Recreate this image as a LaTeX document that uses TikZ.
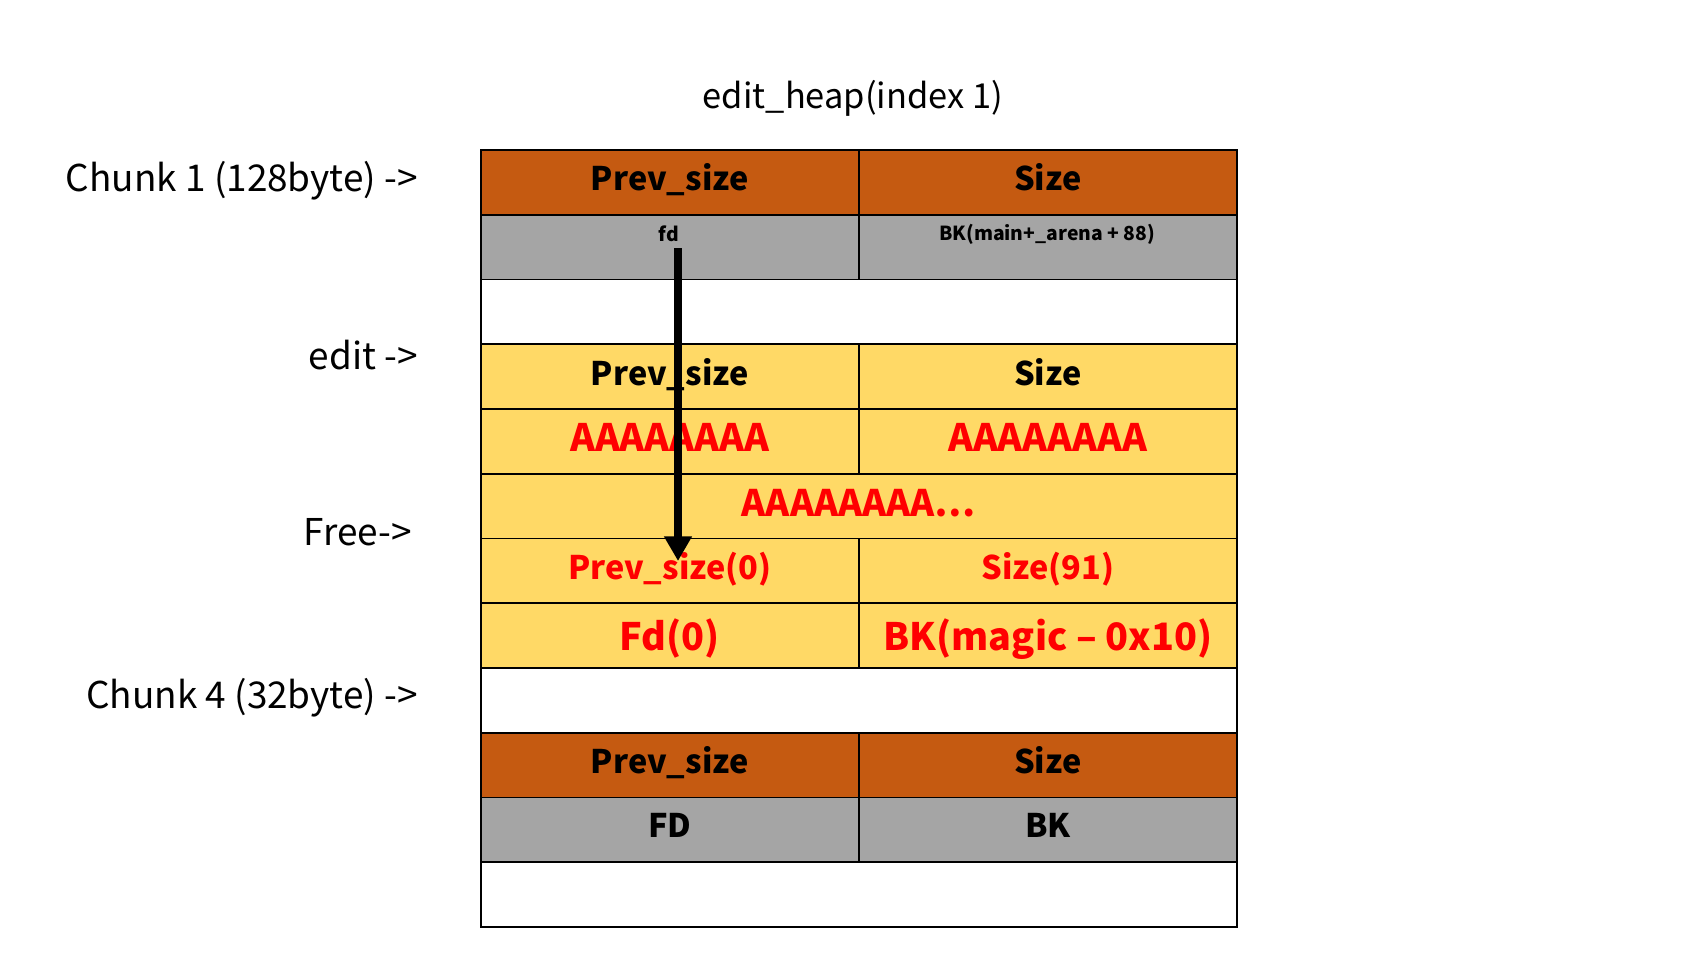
\documentclass[tikz,border=0pt]{standalone}
\usepackage{fontspec}
\setmainfont{Noto Sans CJK KR}
\usetikzlibrary{arrows.meta,positioning}

\definecolor{headfill}{HTML}{C55A11}
\definecolor{bodyfill}{HTML}{A5A5A5}
\definecolor{editfill}{HTML}{FFD966}
\definecolor{fakered}{HTML}{FF0000}

\tikzset{
  half/.style={draw=black,line width=1pt,minimum width=7.56cm,minimum height=1.2954cm,
    inner sep=0pt,anchor=north west,text height=13pt,text depth=3.4pt,
    font=\fontsize{18.5}{22}\selectfont\bfseries},
  whole/.style={half,minimum width=15.12cm},
  forged/.style={text=fakered},
  bigred/.style={forged,font=\fontsize{21.5}{26}\selectfont\bfseries},
  sidelabel/.style={anchor=east,inner sep=0pt,font=\fontsize{21}{25}\selectfont}
}

\begin{document}
\begin{tikzpicture}[x=0.02cm,y=-0.02cm,>=Stealth]
  \useasboundingbox (0,0) rectangle (1681,958);
  \node[font=\fontsize{19.6}{24}\selectfont] (title) at (853,98) {edit\_heap(index 1)};

  % chunk 1
  \node[half,fill=headfill] (c1ps) at (480,149) {Prev\_size};
  \node[half,fill=headfill] (c1sz) at (858,149) {Size};
  \node[half,fill=bodyfill] (c1fd) at (480,213.8) {};
  \node[half,fill=bodyfill] (c1bk) at (858,213.8) {};
  \node[font=\fontsize{11}{13}\selectfont\bfseries,anchor=center] (fdlbl) at (669,234) {fd};
  \node[font=\fontsize{11}{13}\selectfont\bfseries,anchor=center] (bklbl) at (1047,234) {BK(main+\_arena + 88)};
  \node[whole,fill=white] (c1gap) at (480,278.5) {};

  % edited chunk
  \node[half,fill=editfill] (edps) at (480,343.3) {Prev\_size};
  \node[half,fill=editfill] (edsz) at (858,343.3) {Size};
  \node[half,fill=editfill,bigred,text height=14pt,text depth=3pt] (eda1) at (480,408.1) {AAAAAAAA};
  \node[half,fill=editfill,bigred,text height=14pt,text depth=3pt] (eda2) at (858,408.1) {AAAAAAAA};
  \node[whole,fill=editfill,forged,font=\fontsize{20.8}{25}\selectfont\bfseries,text height=14pt,text depth=2pt] (edall) at (480,472.9) {AAAAAAAA\dots};
  \node[half,fill=editfill,forged,text height=13.5pt,text depth=3.2pt] (frps) at (480,537.6) {Prev\_size(0)};
  \node[half,fill=editfill,forged,text height=13.5pt,text depth=3.2pt] (frsz) at (858,537.6) {Size(91)};
  \node[half,fill=editfill,bigred,text height=19pt,text depth=1.6pt] (frfd) at (480,602.4) {Fd(0)};
  \node[half,fill=editfill,bigred,text height=19pt,text depth=1.6pt] (frbk) at (858,602.4) {BK(magic -- 0x10)};
  \node[whole,fill=white] (c4gap) at (480,667.2) {};

  % chunk 4
  \node[half,fill=headfill] (c4ps) at (480,731.9) {Prev\_size};
  \node[half,fill=headfill] (c4sz) at (858,731.9) {Size};
  \node[half,fill=bodyfill,text height=13pt,text depth=4.6pt] (c4fd) at (480,796.7) {FD};
  \node[half,fill=bodyfill,text height=13pt,text depth=4.6pt] (c4bk) at (858,796.7) {BK};
  \node[whole,fill=white] (c4end) at (480,861.5) {};

  % labels on the left
  \node[sidelabel] (lchunk1) at (418,181) {Chunk 1 (128byte) ->};
  \node[sidelabel] (ledit) at (418,355) {edit ->};
  \node[sidelabel] (lfree) at (412,532) {Free->};
  \node[sidelabel] (lchunk4) at (418,698) {Chunk 4 (32byte) ->};

  % fd pointer
  \coordinate (fdtail) at (678,248);
  \coordinate (fdtip) at (678,561);
  \draw[->,line width=5pt,>={Stealth[length=14pt,width=15pt,inset=0pt]}] (fdtail) -- (fdtip);
\end{tikzpicture}
\end{document}
